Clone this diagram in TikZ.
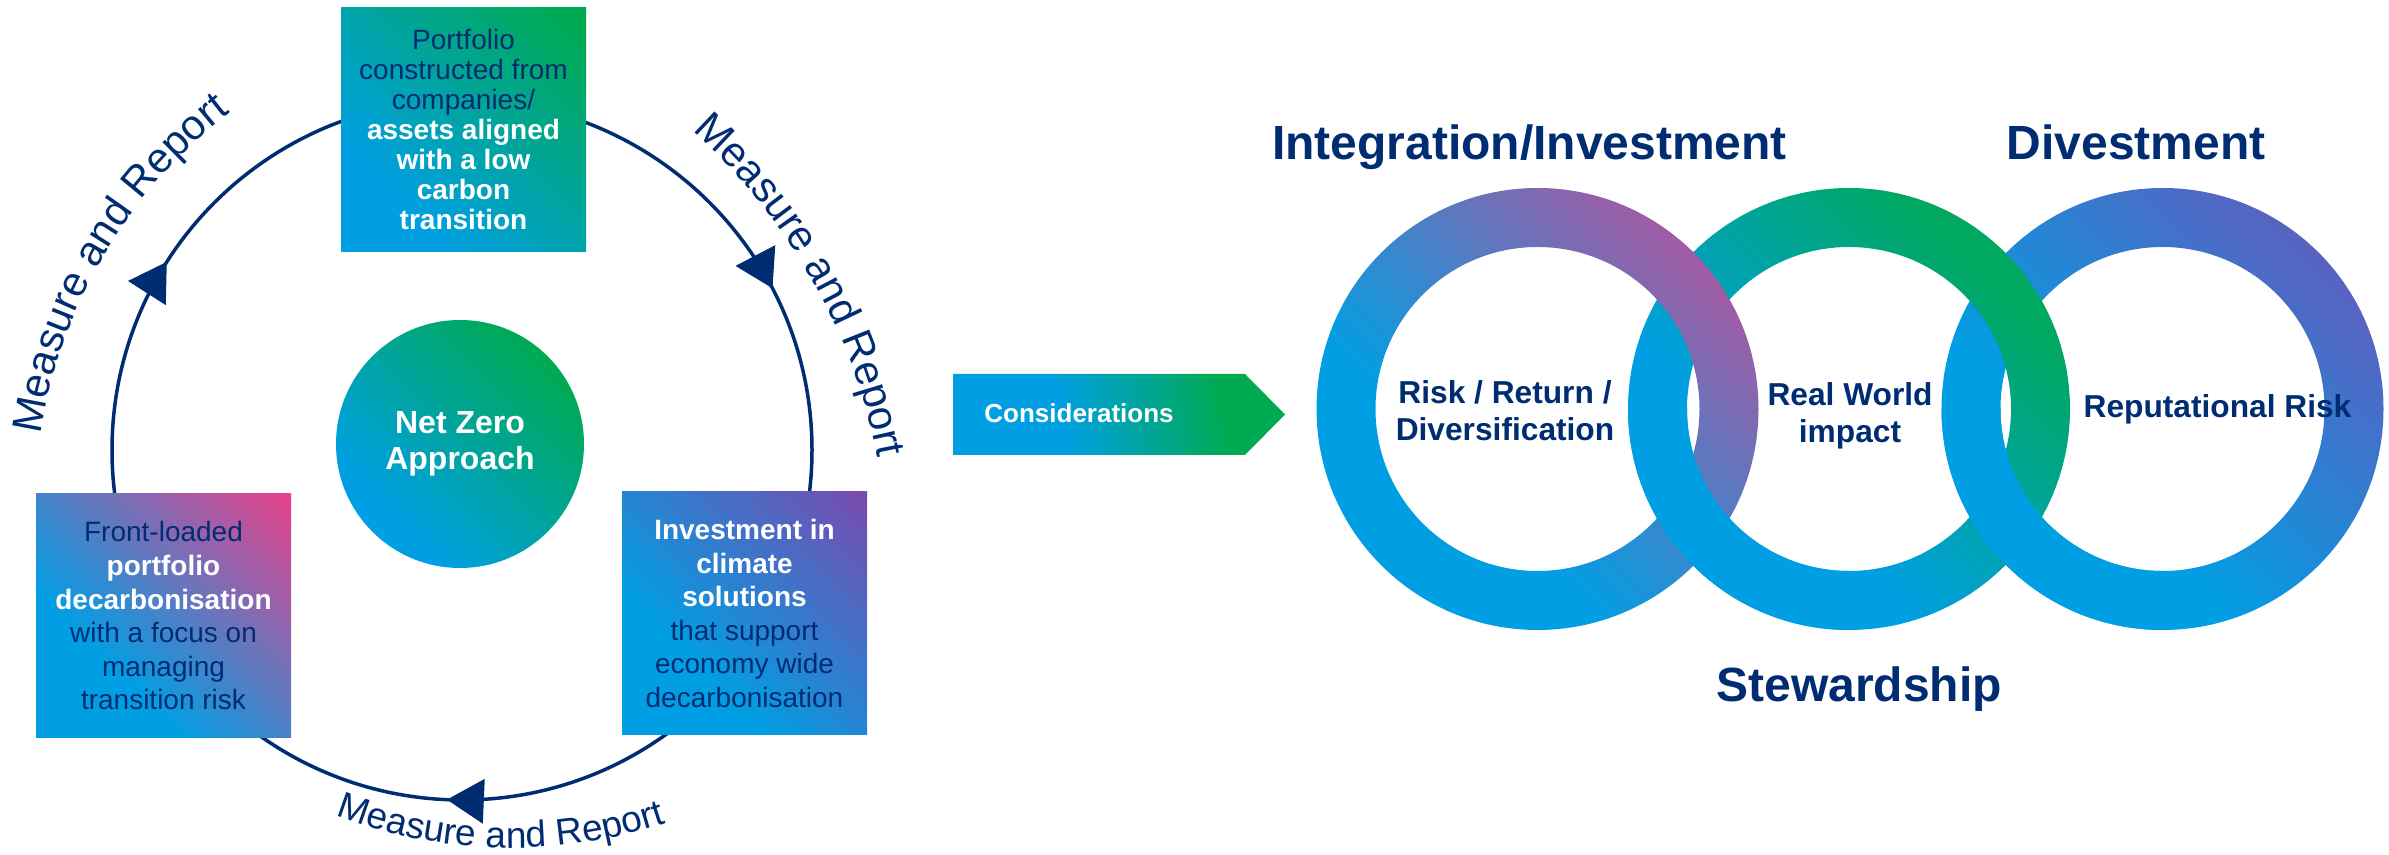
\documentclass[tikz,border=0pt]{standalone}
\usepackage{fontspec}
\setmainfont{Liberation Sans}
\usetikzlibrary{arrows.meta,decorations.markings,decorations.text}
\definecolor{navy}{RGB}{0,45,114}
\definecolor{cblue}{RGB}{0,159,227}
\definecolor{cgreen}{RGB}{0,170,80}
\definecolor{cpink}{RGB}{232,66,140}
\definecolor{cpurple}{RGB}{122,74,174}
\definecolor{rmag}{RGB}{184,82,156}
\definecolor{rgreen}{RGB}{0,168,96}
\definecolor{rpurple}{RGB}{106,86,186}
\pgfdeclareverticalshading{shTop}{100bp}{color(0bp)=(cblue); color(30bp)=(cblue); color(82bp)=(cgreen); color(100bp)=(cgreen)}
\pgfdeclareverticalshading{shLeft}{100bp}{color(0bp)=(cblue); color(35bp)=(cblue); color(85bp)=(cpink); color(100bp)=(cpink)}
\pgfdeclareverticalshading{shRight}{100bp}{color(0bp)=(cblue); color(35bp)=(cblue); color(85bp)=(cpurple); color(100bp)=(cpurple)}
\pgfdeclareverticalshading{shCirc}{100bp}{color(0bp)=(cblue); color(30bp)=(cblue); color(75bp)=(cgreen); color(100bp)=(cgreen)}
\pgfdeclareverticalshading{shArr}{100bp}{color(0bp)=(cblue); color(40bp)=(cblue); color(68bp)=(cgreen); color(100bp)=(cgreen)}
\pgfdeclareverticalshading{shRingM}{100bp}{color(0bp)=(cblue); color(38bp)=(cblue); color(80bp)=(rmag); color(100bp)=(rmag)}
\pgfdeclareverticalshading{shRingG}{100bp}{color(0bp)=(cblue); color(38bp)=(cblue); color(72bp)=(rgreen); color(100bp)=(rgreen)}
\pgfdeclareverticalshading{shRingV}{100bp}{color(0bp)=(cblue); color(38bp)=(cblue); color(82bp)=(rpurple); color(100bp)=(rpurple)}
\newcommand\Wt[1]{{\bfseries\color{white}#1}}
\newcommand\mrfont{\fontsize{21}{21}\selectfont\color{navy}}
\newcommand\mrfontb{\fontsize{18.5}{18.5}\selectfont\color{navy}}
\begin{document}
\begin{tikzpicture}[x=0.5pt,y=0.5pt,
  boxnode/.style={rectangle, shade, inner sep=0pt, align=center, text=navy},
  cycline/.style={draw=navy, line width=1.75pt},
  head/.style={text=navy, font=\fontsize{24}{24}\selectfont\bfseries, inner sep=0pt},
  rtext/.style={text=navy, font=\fontsize{15.85}{18.6}\selectfont\bfseries, align=center, inner sep=0pt},
  ringshade/.style={shade, shading=#1, shading angle=-45, even odd rule}]
\useasboundingbox (0,0) rectangle (2389,855);

% ---- cycle ----
\coordinate (C) at (462,405);
\draw[cycline, postaction={decorate}, decoration={markings,
  mark=at position 0.2569 with {\arrow{Triangle[length=18.5pt,width=22pt]}},
  mark=at position 0.5903 with {\arrow{Triangle[length=18.5pt,width=22pt]}},
  mark=at position 0.9236 with {\arrow{Triangle[length=18.5pt,width=22pt]}}}]
  ([shift={(0:175pt)}]C) arc[start angle=0, end angle=-360, radius=175pt];

% ---- labels on arcs ----
\coordinate (mlc) at (538.6,344);
\coordinate (mrc) at (301.7,285.8);
\coordinate (mbc) at (511,497);
\path[decorate, decoration={text along path, text align=center, text={|\mrfont|Measure and Report}}]
  ([shift={(174.5:252pt)}]mlc) arc[start angle=174.5, end angle=124.5, radius=252pt];
\path[decorate, decoration={text along path, text align=center, text={|\mrfont|Measure and Report}}]
  ([shift={(51.6:293.5pt)}]mrc) arc[start angle=51.6, end angle=7.6, radius=293.5pt];
\path[decorate, decoration={text along path, text align=center, text={|\mrfontb|Measure and Report}}]
  ([shift={(-113.3:245pt)}]mbc) arc[start angle=-113.3, end angle=-69.3, radius=245pt];

\node[boxnode, shading=shTop, shading angle=-45, minimum width=122.5pt, minimum height=122pt,
  font=\fontsize{14}{15}\selectfont] (top) at (463.5,725)
  {Portfolio\\constructed from\\companies/\\\Wt{assets aligned}\\\Wt{with a low}\\\Wt{carbon}\\\Wt{transition}};
\node[boxnode, shading=shLeft, shading angle=-45, minimum width=127.5pt, minimum height=122pt,
  font=\fontsize{14}{16.8}\selectfont] (left) at (163.5,239)
  {Front-loaded\\\Wt{portfolio}\\\Wt{decarbonisation}\\with a focus on\\managing\\transition risk};
\node[boxnode, shading=shRight, shading angle=-45, minimum width=122.5pt, minimum height=121.5pt,
  font=\fontsize{14}{16.8}\selectfont] (right) at (744.5,241.5)
  {\Wt{Investment in}\\\Wt{climate}\\\Wt{solutions}\\that support\\economy wide\\decarbonisation};
\node[circle, shade, shading=shCirc, shading angle=-45, minimum size=124pt, inner sep=0pt,
  align=center, text=white, font=\fontsize{16}{18}\selectfont\bfseries] (nz) at (460,411) {Net Zero\\Approach};

% ---- considerations arrow ----
\shade[shading=shArr, shading angle=-80] (953,481) -- (1245,481) -- (1285,440.5) -- (1245,400) -- (953,400) -- cycle;
\node[anchor=base west, inner sep=0pt, text=white, font=\fontsize{13}{13}\selectfont\bfseries] (cons) at (984,432.3) {Considerations};

% ---- rings ----
\coordinate (r1) at (1537.5,446);
\coordinate (r2) at (1849,446);
\coordinate (r3) at (2162.5,446);
\path[ringshade=shRingV] (r3) circle[radius=110.5pt] (r3) circle[radius=81pt];
\path[ringshade=shRingG] (r2) circle[radius=110.5pt] (r2) circle[radius=81pt];
\path[ringshade=shRingM] (r1) circle[radius=110.5pt] (r1) circle[radius=81pt];
\begin{scope}
  \clip (1600,0) rectangle (1849,446);
  \path[ringshade=shRingG] (r2) circle[radius=110.5pt] (r2) circle[radius=81pt];
\end{scope}
\begin{scope}
  \clip (1910,0) rectangle (2162.5,446);
  \path[ringshade=shRingV] (r3) circle[radius=110.5pt] (r3) circle[radius=81pt];
\end{scope}

\node[head, anchor=base] (integ) at (1529.5,695) {Integration/Investment};
\node[head, anchor=base] (divest) at (2136,695) {Divestment};
\node[head, anchor=base] (stew) at (1859,153) {Stewardship};

\node[rtext, anchor=base] (rrd) at (1505,414) {Risk / Return /\\Diversification};
\node[rtext, anchor=base] (rwi) at (1850,412) {Real World\\impact};
\node[rtext, anchor=base] (rep) at (2217.5,437) {Reputational Risk};
\end{tikzpicture}
\end{document}
